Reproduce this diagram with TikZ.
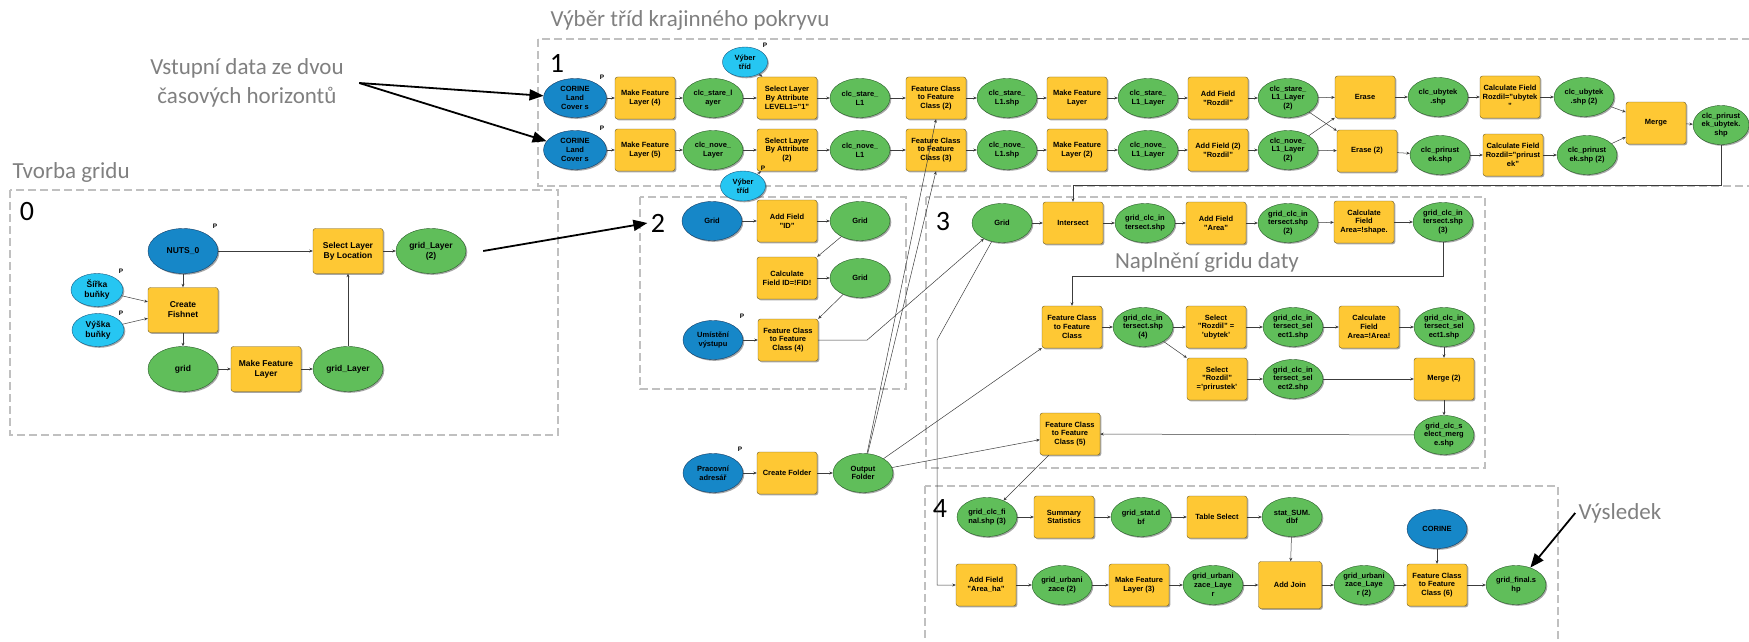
\documentclass[tikz,border=0pt]{standalone}
\usepackage{fontspec}
\setmainfont{Liberation Sans}
\newfontfamily\notefont{Carlito}
\usetikzlibrary{shapes.geometric,shadows,arrows.meta}

\definecolor{toolfill}{RGB}{254,200,52}
\definecolor{tooldraw}{RGB}{110,90,30}
\definecolor{datafill}{RGB}{96,190,90}
\definecolor{datadraw}{RGB}{40,90,40}
\definecolor{inputfill}{RGB}{22,135,200}
\definecolor{inputdraw}{RGB}{20,60,100}
\definecolor{paramfill}{RGB}{38,198,242}
\definecolor{paramdraw}{RGB}{20,90,130}
\definecolor{linecol}{RGB}{60,60,60}
\definecolor{areacol}{RGB}{192,192,192}
\definecolor{notegray}{RGB}{128,128,128}

\newcommand\nodetext{\bfseries\fontsize{7.5}{8.8}\selectfont}
\newcommand\nodetextbig{\bfseries\fontsize{8.5}{10}\selectfont}

\begin{document}
\begin{tikzpicture}[x=1pt,y=-1pt,>={Stealth[length=3.5pt,width=3pt]},
	dropsh/.style={drop shadow={shadow xshift=1.3pt,shadow yshift=-1.3pt,fill=black,opacity=.35}},
	tool/.style={rectangle,rounded corners=2.5pt,draw=tooldraw,fill=toolfill,minimum width=60,minimum height=42,inner sep=1pt,align=center,font=\nodetext,dropsh},
	data/.style={ellipse,draw=datadraw,fill=datafill,minimum width=60,minimum height=39,inner sep=0pt,align=center,font=\nodetext,dropsh},
	input/.style={data,draw=inputdraw,fill=inputfill},
	param/.style={data,draw=paramdraw,fill=paramfill,minimum width=45,minimum height=30},
	zero/.style={minimum width=70,minimum height=45,font=\nodetextbig},
	pmark/.style={font=\bfseries\fontsize{6.5}{7}\selectfont,inner sep=0pt},
	flow/.style={->,draw=linecol,line width=.5pt},
	note/.style={-{Triangle[length=14pt,width=11pt]},line width=1.8pt},
	area/.style={draw=areacol,line width=2.2pt,dash pattern=on 8pt off 4pt},
	caption/.style={font=\notefont\fontsize{23}{29}\selectfont,text=notegray,align=center},
	num/.style={font=\notefont\fontsize{28}{30}\selectfont}]
		\useasboundingbox (0,0) rectangle (1749,642);

		\draw[area] (10,190) rectangle (558,435);
		\draw[area] (538,39) rectangle (1765,186);
		\draw[area] (640,197) rectangle (906,389);
		\draw[area] (926,197) rectangle (1485,468);
		\draw[area] (925,486) rectangle (1558,660);

		\node[caption] (t1) at (690,20) {Výběr tříd krajinného pokryvu};
		\node[caption] (t0) at (247,83) {Vstupní data ze dvou\\časových horizontů};
		\node[caption,anchor=west] (tg) at (9,172) {Tvorba gridu};
		\node[caption] (tn) at (1207,262) {Naplnění gridu daty};
		\node[caption] (tv) at (1620,513) {Výsledek};

		\node[num] (n0) at (27,212) {0};
		\node[num] (n1) at (557,63) {1};
		\node[num] (n2) at (658,223) {2};
		\node[num] (n3) at (943,222) {3};
		\node[num] (n4) at (940,509) {4};

		\node[input,zero] (nuts) at (183,251) {NUTS\_0};
		\node[param,minimum width=52,minimum height=33,font=\nodetextbig] (sb) at (97,290) {Šířka\\buňky};
		\node[param,minimum width=52,minimum height=33,font=\nodetextbig] (vb) at (98,330) {Výška\\buňky};
		\node[tool,zero] (cf) at (183,310) {Create\\Fishnet};
		\node[data,zero] (gr) at (183,369) {grid};
		\node[tool,zero] (mfl) at (266,369) {Make Feature\\Layer};
		\node[data,zero] (gl) at (348,369) {grid\_Layer};
		\node[tool,zero] (slbl) at (348,251) {Select Layer\\By Location};
		\node[data,zero] (gl2) at (431,251) {grid\_Layer\\(2)};
		\node[pmark] (p1) at (215,226) {P};
		\node[pmark] (p2) at (121,271) {P};
		\node[pmark] (p3) at (121,313) {P};
		\draw[flow] (nuts) -- (slbl);
		\draw[flow] (nuts) -- (cf);
		\draw[flow] (sb) -- (cf);
		\draw[flow] (vb) -- (cf);
		\draw[flow] (cf) -- (gr);
		\draw[flow] (gr) -- (mfl);
		\draw[flow] (mfl) -- (gl);
		\draw[flow] (gl) -- (slbl);
		\draw[flow] (slbl) -- (gl2);

		\node[input,minimum width=63] (c1) at (575,98) {CORINE\\Land\\Cover s};
		\node[input,minimum width=63] (c2) at (575,150) {CORINE\\Land\\Cover s};
		\node[tool] (m4) at (645,98) {Make Feature\\Layer (4)};
		\node[tool] (m5) at (645,150) {Make Feature\\Layer (5)};
		\node[data] (d1) at (713,98) {clc\_stare\_l\\ayer};
		\node[data] (d2) at (713,150) {clc\_nove\_\\Layer};
		\node[param] (vt1) at (745,62) {Výber\\tříd};
		\node[param] (vt2) at (743,186) {Výber\\tříd};
		\node[tool] (sa1) at (787,98) {Select Layer\\By Attribute\\LEVEL1="1"};
		\node[tool] (sa2) at (787,150) {Select Layer\\By Attribute\\(2)};
		\node[data] (l1) at (860,98) {clc\_stare\_\\L1};
		\node[data] (l2) at (860,150) {clc\_nove\_\\L1};
		\node[tool] (f2) at (936,98) {Feature Class\\to Feature\\Class (2)};
		\node[tool] (f3) at (936,150) {Feature Class\\to Feature\\Class (3)};
		\node[data] (sh1) at (1007,98) {clc\_stare\_\\L1.shp};
		\node[data] (sh2) at (1007,150) {clc\_nove\_\\L1.shp};
		\node[tool] (mf1) at (1077,98) {Make Feature\\Layer};
		\node[tool] (mf2) at (1077,150) {Make Feature\\Layer (2)};
		\node[data] (ly1) at (1148,98) {clc\_stare\_\\L1\_Layer};
		\node[data] (ly2) at (1148,150) {clc\_nove\_\\L1\_Layer};
		\node[tool] (af1) at (1218,98) {Add Field\\"Rozdil"};
		\node[tool] (af2) at (1218,150) {Add Field (2)\\"Rozdil"};
		\node[data] (lz1) at (1288,98) {clc\_stare\_\\L1\_Layer\\(2)};
		\node[data] (lz2) at (1288,150) {clc\_nove\_\\L1\_Layer\\(2)};
		\node[tool] (er1) at (1365,97) {Erase};
		\node[tool] (er2) at (1367,151) {Erase (2)};
		\node[data] (ub) at (1438,97) {clc\_ubytek\\.shp};
		\node[data] (pr) at (1440,155) {clc\_prirust\\ek.shp};
		\node[tool] (cu) at (1510,97) {Calculate Field\\Rozdil="ubytek\\"};
		\node[tool] (cp) at (1513,155) {Calculate Field\\Rozdil="prirust\\ek"};
		\node[data] (ub2) at (1584,97) {clc\_ubytek\\.shp (2)};
		\node[data] (pr2) at (1587,155) {clc\_prirust\\ek.shp (2)};
		\node[tool] (mg) at (1656,123) {Merge};
		\node[data,minimum width=56] (out) at (1721,125) {clc\_prirust\\ek\_ubytek.\\shp};
		\node[pmark] (p4) at (602,77) {P};
		\node[pmark] (p5) at (602,128) {P};
		\node[pmark] (p6) at (765,45) {P};
		\node[pmark] (p7) at (763,168) {P};
		\draw[flow] (c1) -- (m4);
		\draw[flow] (m4) -- (d1);
		\draw[flow] (d1) -- (sa1);
		\draw[flow] (vt1) -- (sa1);
		\draw[flow] (sa1) -- (l1);
		\draw[flow] (l1) -- (f2);
		\draw[flow] (f2) -- (sh1);
		\draw[flow] (sh1) -- (mf1);
		\draw[flow] (mf1) -- (ly1);
		\draw[flow] (ly1) -- (af1);
		\draw[flow] (af1) -- (lz1);
		\draw[flow] (lz1) -- (er1);
		\draw[flow] (lz1) -- (er2);
		\draw[flow] (er1) -- (ub);
		\draw[flow] (ub) -- (cu);
		\draw[flow] (cu) -- (ub2);
		\draw[flow] (ub2) -- (mg);
		\draw[flow] (c2) -- (m5);
		\draw[flow] (m5) -- (d2);
		\draw[flow] (d2) -- (sa2);
		\draw[flow] (vt2) -- (sa2);
		\draw[flow] (sa2) -- (l2);
		\draw[flow] (l2) -- (f3);
		\draw[flow] (f3) -- (sh2);
		\draw[flow] (sh2) -- (mf2);
		\draw[flow] (mf2) -- (ly2);
		\draw[flow] (ly2) -- (af2);
		\draw[flow] (af2) -- (lz2);
		\draw[flow] (lz2) -- (er2);
		\draw[flow] (lz2) -- (er1);
		\draw[flow] (er2) -- (pr);
		\draw[flow] (pr) -- (cp);
		\draw[flow] (cp) -- (pr2);
		\draw[flow] (pr2) -- (mg);
		\draw[flow] (mg) -- (out);

		\node[input] (g2) at (712,221) {Grid};
		\node[tool] (afid) at (787,221) {Add Field\\"ID"};
		\node[data] (gg1) at (860,221) {Grid};
		\node[tool] (cid) at (787,278) {Calculate\\Field ID=!FID!};
		\node[data] (gg2) at (860,278) {Grid};
		\node[input] (um) at (713,340) {Umístění\\výstupu};
		\node[tool] (f4) at (788,340) {Feature Class\\to Feature\\Class (4)};
		\node[pmark] (p8) at (742,316) {P};
		\draw[flow] (g2) -- (afid);
		\draw[flow] (afid) -- (gg1);
		\draw[flow] (gg1) -- (cid.north east);
		\draw[flow] (cid) -- (gg2);
		\draw[flow] (gg2) -- (f4.north east);
		\draw[flow] (um) -- (f4);

		\node[data] (g3) at (1002,223) {Grid};
		\node[tool] (ix) at (1073,223) {Intersect};
		\node[data] (i1) at (1145,223) {grid\_clc\_in\\tersect.shp};
		\node[tool] (afa) at (1216,223) {Add Field\\"Area"};
		\node[data] (i2) at (1288,223) {grid\_clc\_in\\tersect.shp\\(2)};
		\node[tool] (cfa) at (1364,222) {Calculate\\Field\\Area=!shape.};
		\node[data] (i3) at (1443,222) {grid\_clc\_in\\tersect.shp\\(3)};
		\node[tool] (fc) at (1072,327) {Feature Class\\to Feature\\Class};
		\node[data] (i4) at (1143,327) {grid\_clc\_in\\tersect.shp\\(4)};
		\node[tool] (su) at (1216,327) {Select\\"Rozdil" =\\'ubytek'};
		\node[data] (e1) at (1293,327) {grid\_clc\_in\\tersect\_sel\\ect1.shp};
		\node[tool] (cfr) at (1369,327) {Calculate\\Field\\Area=!Area!};
		\node[data] (e1b) at (1444,327) {grid\_clc\_in\\tersect\_sel\\ect1.shp};
		\node[tool] (sp) at (1217,379) {Select\\"Rozdil"\\='prirustek'};
		\node[data] (e2) at (1293,379) {grid\_clc\_in\\tersect\_sel\\ect2.shp};
		\node[tool] (mg2) at (1444,379) {Merge (2)};
		\node[data] (sm) at (1444,435) {grid\_clc\_s\\elect\_merg\\e.shp};
		\node[tool] (f5) at (1070,434) {Feature Class\\to Feature\\Class (5)};
		\draw[flow] (out.south) -- ++(0,41) -| (ix.north);
		\draw[flow] (f4.east) -- ++(49,0) -- (g3);
		\draw[flow] (g3) -- (ix);
		\draw[flow] (ix) -- (i1);
		\draw[flow] (i1) -- (afa);
		\draw[flow] (afa) -- (i2);
		\draw[flow] (i2) -- (cfa);
		\draw[flow] (cfa) -- (i3);
		\draw[flow] (i3.south) -- ++(0,35) -| (fc.north);
		\draw[flow] (fc) -- (i4);
		\draw[flow] (i4) -- (su);
		\draw[flow] (i4) -- (sp.north west);
		\draw[flow] (su) -- (e1);
		\draw[flow] (e1) -- (cfr);
		\draw[flow] (cfr) -- (e1b);
		\draw[flow] (e1b) -- (mg2);
		\draw[flow] (sp) -- (e2);
		\draw[flow] (e2) -- (mg2);
		\draw[flow] (mg2) -- (sm);
		\draw[flow] (sm) -- (f5);

		\node[input] (pa) at (713,473) {Pracovní\\adresář};
		\node[tool] (cfo) at (787,473) {Create Folder};
		\node[data] (of) at (863,473) {Output\\Folder};
		\node[pmark] (p9) at (740,449) {P};
		\draw[flow] (pa) -- (cfo);
		\draw[flow] (cfo) -- (of);
		\draw[flow] (of) -- (f2.south);
		\draw[flow] (of) -- (f3.south);
		\draw[flow] (of) -- (fc);
		\draw[flow] (of) -- (f5);

		\node[data] (gf3) at (987,517) {grid\_clc\_fi\\nal.shp (3)};
		\node[tool] (ss) at (1064,517) {Summary\\Statistics};
		\node[data] (gs) at (1141,517) {grid\_stat.d\\bf};
		\node[tool] (ts) at (1217,517) {Table Select};
		\node[data] (sd) at (1292,517) {stat\_SUM.\\dbf};
		\node[tool] (ah) at (986,585) {Add Field\\"Area\_ha"};
		\node[data] (gu) at (1062,585) {grid\_urbani\\zace (2)};
		\node[tool] (m3) at (1139,585) {Make Feature\\Layer (3)};
		\node[data] (gz) at (1213,585) {grid\_urbani\\zace\_Laye\\r};
		\node[tool,minimum width=63,minimum height=47] (aj) at (1290,585) {Add Join};
		\node[data] (gz2) at (1364,585) {grid\_urbani\\zace\_Laye\\r (2)};
		\node[input] (co) at (1437,529) {CORINE};
		\node[tool] (f6) at (1437,585) {Feature Class\\to Feature\\Class (6)};
		\node[data] (gfin) at (1516,585) {grid\_final.s\\hp};
		\coordinate (k1) at (937,340);
		\draw[flow] (f5) -- (gf3);
		\draw[flow] (g3) -- (k1) |- (ah);
		\draw[flow] (gf3) -- (ss);
		\draw[flow] (ss) -- (gs);
		\draw[flow] (gs) -- (ts);
		\draw[flow] (ts) -- (sd);
		\draw[flow] (sd) -- (aj);
		\draw[flow] (ah) -- (gu);
		\draw[flow] (gu) -- (m3);
		\draw[flow] (m3) -- (gz);
		\draw[flow] (gz) -- (aj);
		\draw[flow] (aj) -- (gz2);
		\draw[flow] (gz2) -- (f6);
		\draw[flow] (co) -- (f6);
		\draw[flow] (f6) -- (gfin);

		\draw[note] ([xshift=12pt]t0.east) -- (c1);
		\draw[note] ([xshift=12pt]t0.east) -- (c2);
		\draw[note] ([xshift=17pt]gl2.east) -- (n2.west);
		\draw[note] (tv.west) -- (gfin);
\end{tikzpicture}
\end{document}
